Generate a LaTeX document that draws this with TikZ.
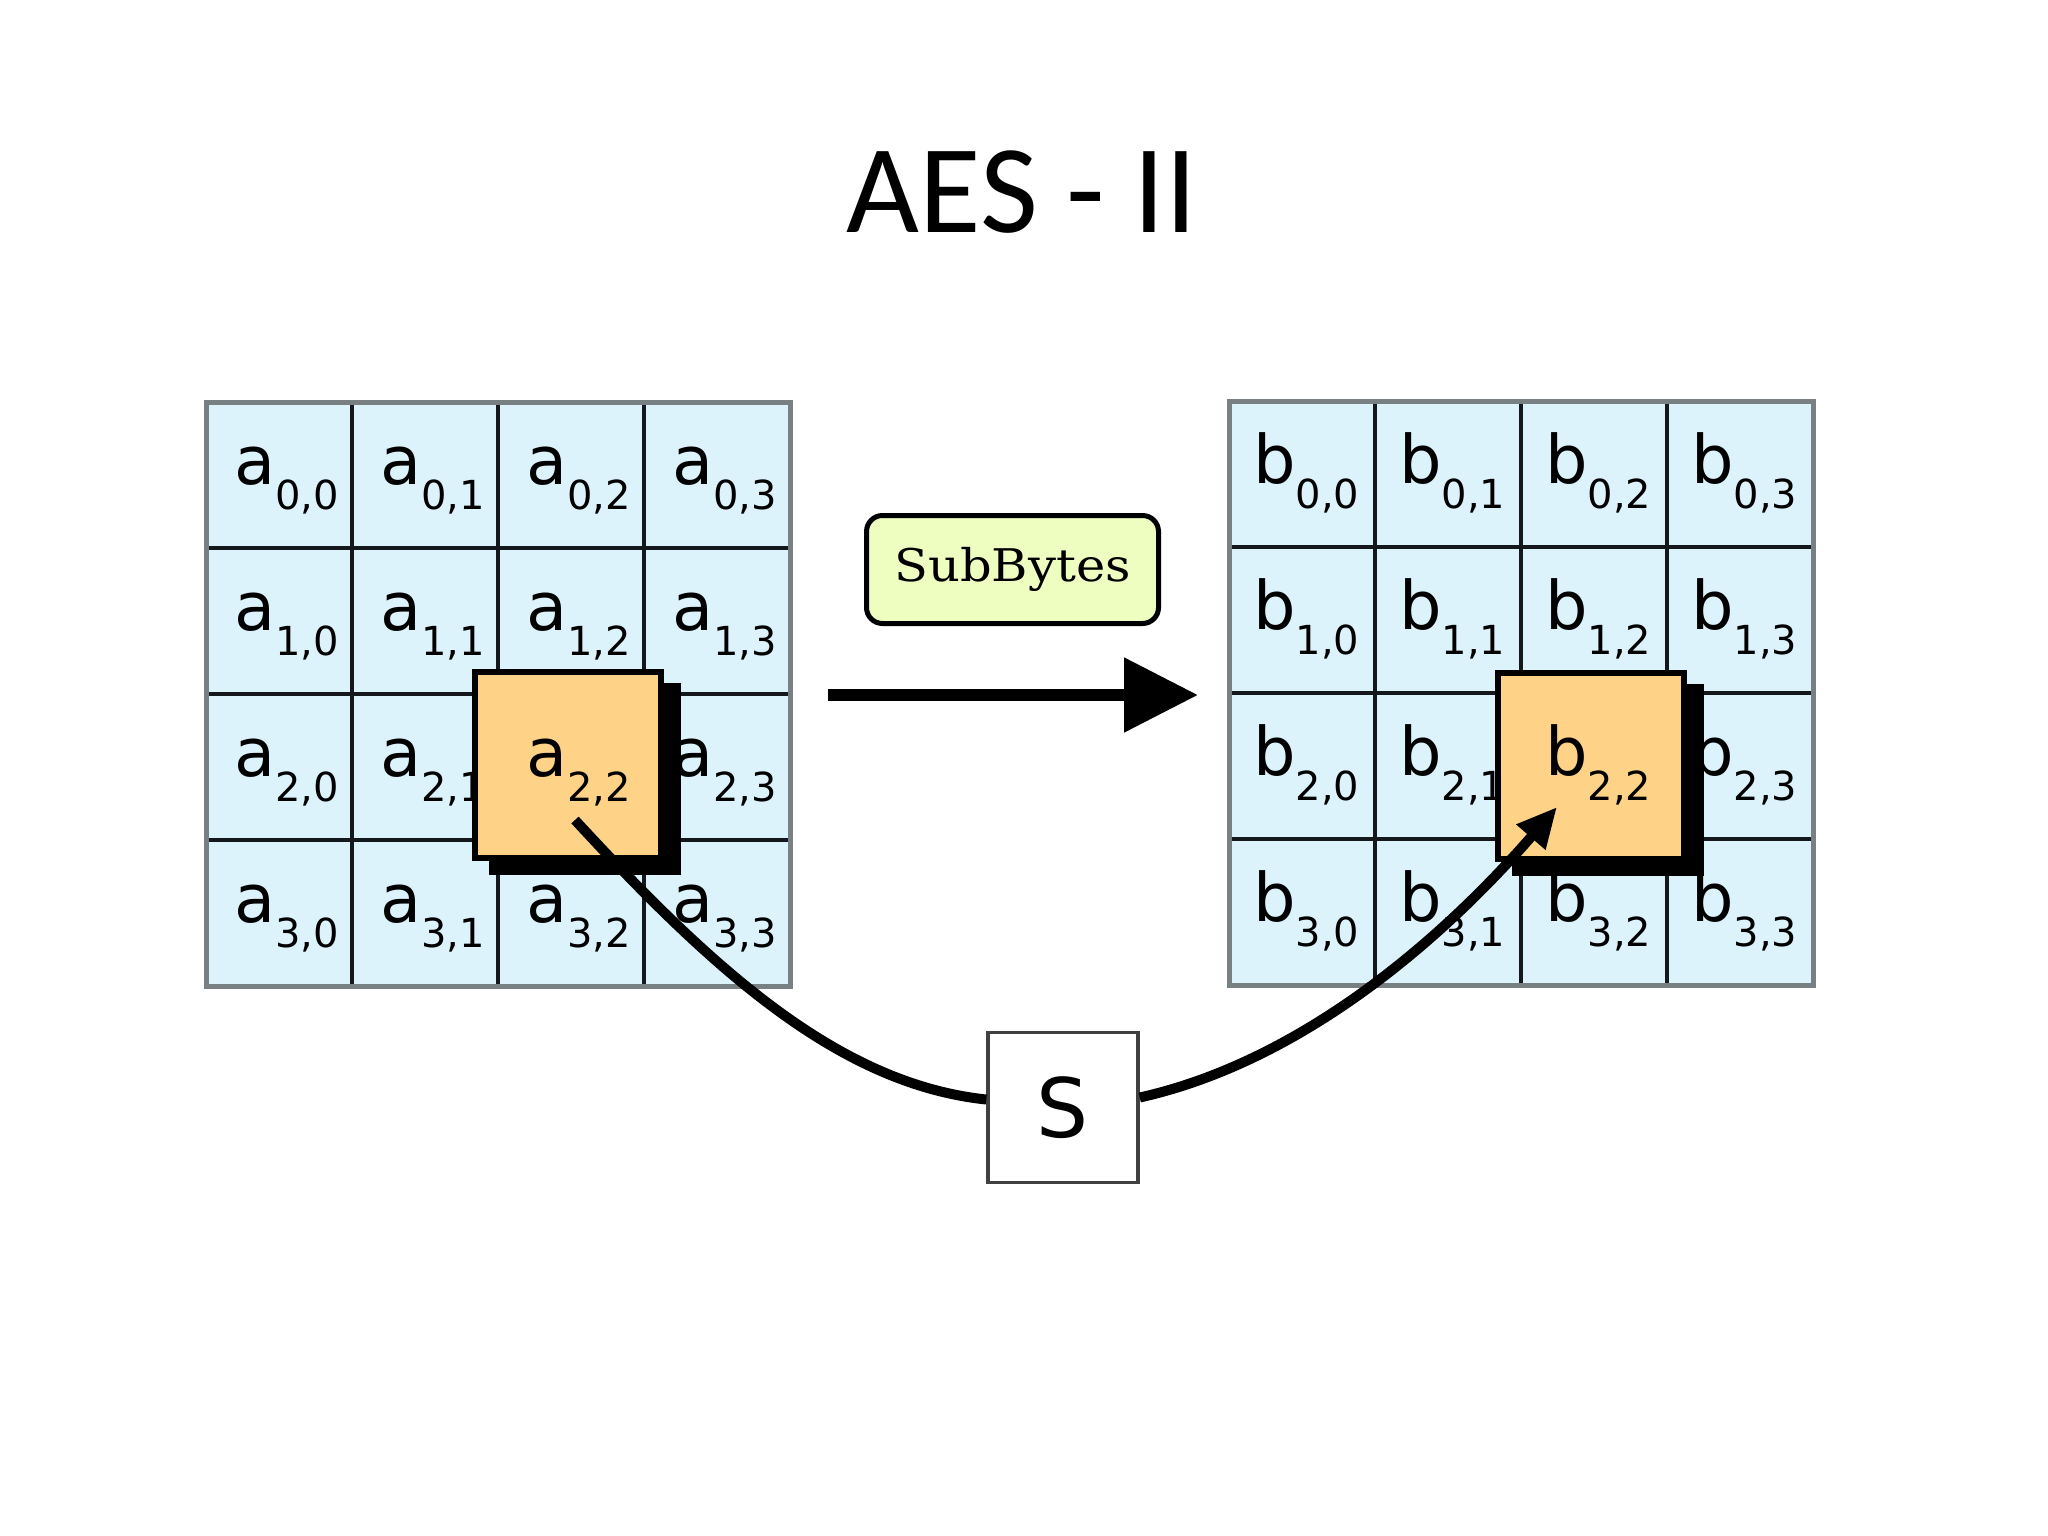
\documentclass[tikz,border=0pt]{standalone}
\usepackage{fontspec}
\setmainfont{DejaVu Sans}
\newfontfamily\titlefont{Carlito}
\newfontfamily\boxserif{DejaVu Serif}
\usetikzlibrary{arrows.meta,calc}
\definecolor{cellblue}{RGB}{221,243,252}
\definecolor{hlorange}{RGB}{255,211,135}
\definecolor{subgreen}{RGB}{238,253,192}
\definecolor{gridgray}{RGB}{120,128,132}
\definecolor{griddark}{RGB}{20,24,28}
\newcommand{\mylbl}[2]{{\fontsize{67}{67}\selectfont #1}\raisebox{-25pt}{\fontsize{40}{40}\selectfont #2}}
\tikzset{
  cellbox/.style={draw=griddark, line width=3.5pt, fill=cellblue, minimum width=146pt, minimum height=146pt, inner sep=0pt, outer sep=0pt},
  lbl/.style={anchor=base west, inner sep=0pt, text=black},
  hlbox/.style={draw=black, line width=6pt, fill=hlorange, minimum size=186pt, inner sep=0pt},
  shadowbox/.style={fill=black, minimum size=192pt, inner sep=0pt},
  curve/.style={line width=10pt, black},
}
\begin{document}
\begin{tikzpicture}[x=1pt,y=-1pt]
\useasboundingbox (0,0) rectangle (2048,1536);
\fill[white] (0,0) rectangle (2048,1536);
% title
\node[anchor=base, inner sep=0pt, font=\titlefont\fontsize{126}{126}\selectfont] (title) at (1022,232) {AES - II};
% left grid
\foreach \row in {0,...,3}{
  \foreach \col in {0,...,3}{
    \node[cellbox] (a\row\col) at (279+146*\col, 475+146*\row) {};
    \node[lbl] (la\row\col) at ([xshift=28pt,yshift=-82pt]a\row\col.north west) {\mylbl{a}{\row,\col}};
  }
}
\draw[gridgray, line width=5pt] (a00.north west) rectangle (a33.south east);
% right grid
\foreach \row in {0,...,3}{
  \foreach \col in {0,...,3}{
    \node[cellbox] (b\row\col) at (1302+146*\col, 474+146*\row) {};
    \node[lbl] (lb\row\col) at ([xshift=24pt,yshift=-82pt]b\row\col.north west) {\mylbl{b}{\row,\col}};
  }
}
\draw[gridgray, line width=5pt] (b00.north west) rectangle (b33.south east);
% highlighted cells
\node[shadowbox] (aSh) at (585,779) {};
\node[hlbox] (aHL) at (568,765) {};
\node[lbl] (la22t) at ([xshift=28pt,yshift=-82pt]a22.north west) {\mylbl{a}{2,2}};
\node[shadowbox] (bSh) at (1608,780) {};
\node[hlbox] (bHL) at (1591,766) {};
\node[lbl] (lb22t) at ([xshift=24pt,yshift=-82pt]b22.north west) {\mylbl{b}{2,2}};
% SubBytes label and arrow
\node[draw=black, line width=5pt, rounded corners=16pt, fill=subgreen, minimum width=292pt, minimum height=108pt, inner sep=0pt] (subbytes) at (1012.5,569.5) {\scalebox{1.1}[1]{\boxserif\fontsize{45}{45}\selectfont SubBytes}};
\coordinate (arrS) at (828,695);
\coordinate (arrE) at (1198,695);
\draw[line width=12pt, -{Triangle[length=74pt,width=72pt]}] (arrS) -- (arrE);
% S box
\node[draw=black!75, line width=3.5pt, fill=white, minimum size=150pt, inner sep=0pt] (sbox) at (1063,1107.5) {\fontsize{82}{82}\selectfont S};
% curves
\coordinate (cStart) at (575,820);
\coordinate (cEnd) at (1557,807);
\draw[curve] (cStart) .. controls (715,972) and (840,1084) .. ([yshift=8pt]sbox.west);
\draw[curve, -{Triangle[length=40pt,width=36pt]}] ([yshift=10pt]sbox.east) .. controls (1299,1062) and (1439,943) .. (cEnd);
\end{tikzpicture}
\end{document}
